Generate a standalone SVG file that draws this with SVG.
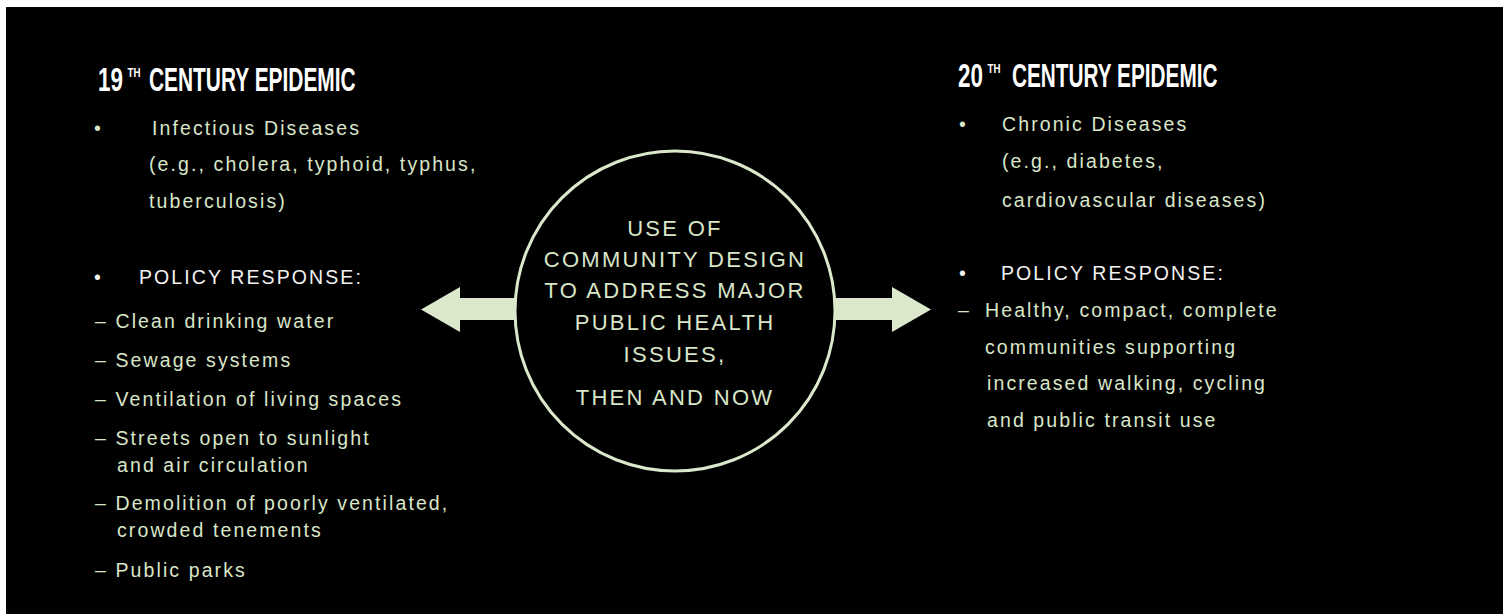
<svg xmlns="http://www.w3.org/2000/svg" width="1506" height="614" viewBox="0 0 1506 614">
  <style>
    .hd { font-family: "Liberation Sans", Arial, sans-serif; font-weight: bold; fill: #ffffff; }
    .body { font-family: "Liberation Sans", Arial, sans-serif; font-size: 19.5px; letter-spacing: 2.1px; fill: #d9e6c8; }
    .wh { fill: #f2f2f2; }
    .ctr { font-family: "Liberation Sans", Arial, sans-serif; font-size: 22px; letter-spacing: 2.3px; fill: #d9e6c8; text-anchor: middle; }
    .arrow { fill: #dbe8cb; }
  </style>
  <rect x="0" y="0" width="1506" height="614" fill="#ffffff"/>
  <rect x="6" y="7" width="1497" height="607" fill="#000000"/>

  <g id="connectors">
    <polygon class="arrow" points="421,309.5 460,287 460,298 520,298 520,320 460,320 460,332"/>
    <polygon class="arrow" points="830,298 892,298 892,287 931,309.5 892,332 892,320 830,320"/>
  </g>

  <g id="center-node">
    <circle cx="675" cy="311" r="160" fill="#000000" stroke="#dbe8cb" stroke-width="3"/>
    <text class="ctr" x="675" y="236">USE OF</text>
    <text class="ctr" x="675" y="267">COMMUNITY DESIGN</text>
    <text class="ctr" x="675" y="298">TO ADDRESS MAJOR</text>
    <text class="ctr" x="675" y="330">PUBLIC HEALTH</text>
    <text class="ctr" x="675" y="362">ISSUES,</text>
    <text class="ctr" x="675" y="405">THEN AND NOW</text>
  </g>

  <g id="left-column">
    <text class="hd" font-size="33.5" transform="translate(98,91) scale(0.67,1)" x="0" y="0">19</text>
    <text class="hd" font-size="13" transform="translate(127.5,77) scale(0.75,1)" x="0" y="0">TH</text>
    <text class="hd" font-size="33.5" transform="translate(149,91) scale(0.624,1)" x="0" y="0">CENTURY EPIDEMIC</text>

    <text class="body" x="94" y="135">•</text>
    <text class="body" x="152" y="135">Infectious Diseases</text>
    <text class="body" x="149" y="171">(e.g., cholera, typhoid, typhus,</text>
    <text class="body" x="149" y="208">tuberculosis)</text>

    <text class="body wh" x="94" y="284">•</text>
    <text class="body wh" x="139" y="284">POLICY RESPONSE:</text>
    <text class="body" x="95" y="328">– Clean drinking water</text>
    <text class="body" x="95" y="367">– Sewage systems</text>
    <text class="body" x="95" y="406">– Ventilation of living spaces</text>
    <text class="body" x="95" y="445">– Streets open to sunlight</text>
    <text class="body" x="117" y="472">and air circulation</text>
    <text class="body" x="95" y="510">– Demolition of poorly ventilated,</text>
    <text class="body" x="117" y="537">crowded tenements</text>
    <text class="body" x="95" y="577">– Public parks</text>
  </g>

  <g id="right-column">
    <text class="hd" font-size="33" transform="translate(958,87) scale(0.68,1)" x="0" y="0">20</text>
    <text class="hd" font-size="13" transform="translate(987.5,73) scale(0.75,1)" x="0" y="0">TH</text>
    <text class="hd" font-size="33" transform="translate(1012,87) scale(0.63,1)" x="0" y="0">CENTURY EPIDEMIC</text>

    <text class="body" x="959" y="131">•</text>
    <text class="body" x="1002" y="131">Chronic Diseases</text>
    <text class="body" x="1002" y="168">(e.g., diabetes,</text>
    <text class="body" x="1002" y="207">cardiovascular diseases)</text>

    <text class="body wh" x="959" y="280">•</text>
    <text class="body wh" x="1001" y="280">POLICY RESPONSE:</text>
    <text class="body" x="958" y="317">–</text>
    <text class="body" x="985" y="317">Healthy, compact, complete</text>
    <text class="body" x="985" y="354">communities supporting</text>
    <text class="body" x="987" y="390">increased walking, cycling</text>
    <text class="body" x="987" y="427">and public transit use</text>
  </g>
</svg>
